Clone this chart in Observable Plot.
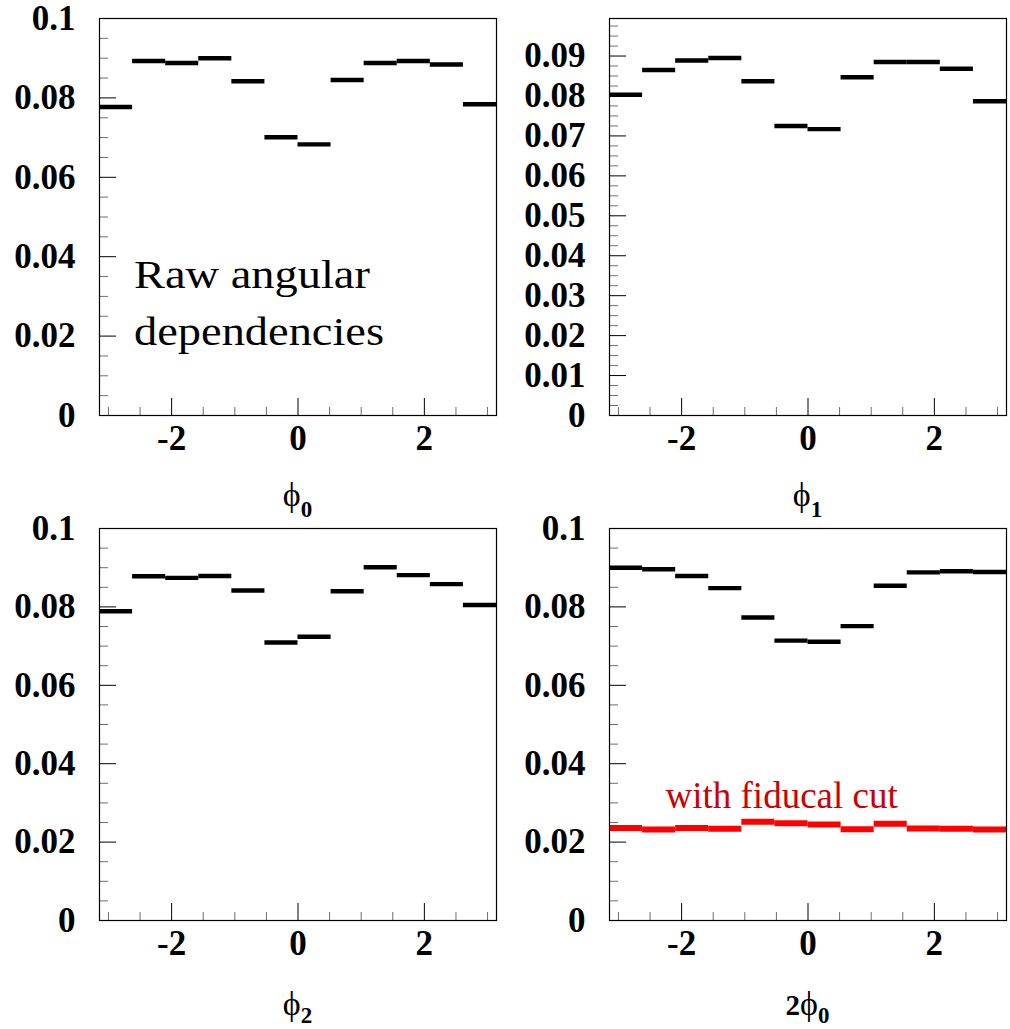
<!DOCTYPE html>
<html><head><meta charset="utf-8">
<script src="https://cdn.jsdelivr.net/npm/d3@7"></script>
<script src="https://cdn.jsdelivr.net/npm/@observablehq/plot@0.6"></script>
<style>
html,body{margin:0;padding:0;background:#fff;}
#root{position:relative;width:1010px;height:1029px;overflow:hidden;background:#fff;}
.cell{position:absolute;}
.cell svg text{font-family:'Liberation Serif','Times New Roman',Times,serif;}
</style></head><body><div id="root"></div>
<script>
// ---- data ----
const binLowEdges = [-6,-5,-4,-3,-2,-1,0,1,2,3,4,5].map(k => k * Math.PI / 6);
const binWidth = Math.PI / 6;
const phi0Values = [0.0777,0.0893,0.0888,0.0900,0.0842,0.0701,0.0683,0.0845,0.0888,0.0893,0.0884,0.0784];
const phi1Values = [0.0803,0.0865,0.0889,0.0895,0.0837,0.0725,0.0717,0.0847,0.0885,0.0885,0.0868,0.0787];
const phi2Values = [0.0789,0.0878,0.0874,0.0879,0.0842,0.0709,0.0724,0.0840,0.0901,0.0881,0.0858,0.0805];
const twoPhi0Values = [0.0900,0.0896,0.0879,0.0848,0.0773,0.0714,0.0711,0.0751,0.0854,0.0888,0.0891,0.0889];
const twoPhi0FiducialValues = [0.0236,0.0232,0.0236,0.0234,0.0252,0.0248,0.0245,0.0233,0.0247,0.0235,0.0234,0.0232];

const xMajorTicks = [-2, 0, 2];
const xMinorTicks = [-3,-2.5,-1.5,-1,-0.5,0.5,1,1.5,2.5,3];
const yMajorTicks = [0,0.02,0.04,0.06,0.08,0.1];
const yMinorTicks = [0.005,0.01,0.015,0.025,0.03,0.035,0.045,0.05,0.055,0.065,0.07,0.075,0.085,0.09,0.095];
const yMajorTicksB = [0,0.01,0.02,0.03,0.04,0.05,0.06,0.07,0.08,0.09];
const yMinorTicksB = [0.0025,0.005,0.0075,0.0125,0.015,0.0175,0.0225,0.025,0.0275,0.0325,0.035,0.0375,0.0425,0.045,0.0475,0.0525,0.055,0.0575,0.0625,0.065,0.0675,0.0725,0.075,0.0775,0.0825,0.085,0.0875,0.0925,0.095,0.0975];

const SERIF = "Liberation Serif, Times New Roman, Times, serif";
const fmt = d => String(+d.toFixed(4));

function panel(cfg) {
  const series = cfg.series.map(s => ({
    ...s,
    data: s.values.map((v, i) => ({lo: binLowEdges[i], hi: binLowEdges[i] + binWidth, v}))
  }));
  const marks = [
    Plot.axisY(cfg.yMinor, {tickSize: -9, stroke: "#6e6e6e", tickFormat: () => "", label: null}),
    Plot.axisY(cfg.yMajor, {tickSize: -17, tickPadding: 41, tickFormat: fmt, fontSize: 35, fontWeight: "bold", fontFamily: SERIF, label: null}),
    Plot.axisX(xMinorTicks, {tickSize: -8, stroke: "#6e6e6e", tickFormat: () => "", label: null}),
    Plot.axisX(xMajorTicks, {tickSize: -17, tickPadding: 27, tickFormat: fmt, fontSize: 35, fontWeight: "bold", fontFamily: SERIF, label: null}),
    ...series.map(s => Plot.ruleY(s.data, {y: "v", x1: "lo", x2: "hi", stroke: s.color, strokeWidth: s.width})),
    Plot.frame({stroke: "black", strokeWidth: 1.2}),
    ...(cfg.notes || [])
  ];
  const svg = Plot.plot({
    width: cfg.w, height: cfg.h,
    marginLeft: cfg.ml, marginRight: cfg.mr, marginTop: cfg.mt, marginBottom: cfg.mb,
    x: {domain: [-Math.PI, Math.PI]},
    y: {domain: [0, cfg.yMax]},
    style: "font-family: 'Liberation Serif', 'Times New Roman', serif; background: transparent; overflow: visible; color: black;",
    marks
  });
  // axis title with subscript
  const t = d3.select(svg).append("text")
    .attr("x", cfg.ml + (cfg.w - cfg.ml - cfg.mr) / 2)
    .attr("y", cfg.h - cfg.mb + cfg.labelOffset)
    .attr("text-anchor", "middle")
    .attr("fill", "black")
    .attr("font-family", SERIF);
  if (cfg.labelPrefix) t.append("tspan").attr("font-size", 29).attr("font-weight", "bold").text(cfg.labelPrefix);
  t.append("tspan").attr("font-size", 34).text("ϕ");
  t.append("tspan").attr("font-size", 23).attr("font-weight", "bold").attr("dy", cfg.subShift).text(cfg.labelSub);
  if (cfg.stretchNotes) {
    d3.select(svg).selectAll("g[aria-label='text'] text").each(function() {
      const tr = this.getAttribute("transform") || "";
      this.setAttribute("transform", tr + " scale(1.19,1)");
    });
  }
  const div = document.createElement("div");
  div.className = "cell";
  div.style.left = cfg.left + "px";
  div.style.top = cfg.top + "px";
  div.appendChild(svg);
  document.getElementById("root").appendChild(div);
  return svg;
}

panel({
  left: 0, top: 0, w: 505, h: 522, ml: 99, mr: 9, mt: 18, mb: 107,
  yMax: 0.1, yMajor: yMajorTicks, yMinor: yMinorTicks,
  series: [{values: phi0Values, color: "black", width: 4.4}],
  labelSub: "0", labelOffset: 91, subShift: 11, stretchNotes: true,
  notes: [Plot.text(["Raw angular\ndependencies"], {x: -2.595, y: 0.0424, text: d => d, textAnchor: "start", lineAnchor: "top", lineHeight: 1.46, fontSize: 39, fontFamily: SERIF, fill: "black"})]
});

panel({
  left: 505, top: 0, w: 505, h: 522, ml: 104, mr: 4, mt: 18, mb: 107,
  yMax: 0.0994, yMajor: yMajorTicksB, yMinor: yMinorTicksB,
  series: [{values: phi1Values, color: "black", width: 4.4}],
  labelSub: "1", labelOffset: 91, subShift: 11
});

panel({
  left: 0, top: 522, w: 505, h: 507, ml: 99, mr: 9, mt: 6, mb: 109,
  yMax: 0.1, yMajor: yMajorTicks, yMinor: yMinorTicks,
  series: [{values: phi2Values, color: "black", width: 4.4}],
  labelSub: "2", labelOffset: 95, subShift: 8
});

panel({
  left: 505, top: 522, w: 505, h: 507, ml: 104, mr: 4, mt: 6, mb: 109,
  yMax: 0.1, yMajor: yMajorTicks, yMinor: yMinorTicks,
  series: [
    {values: twoPhi0Values, color: "black", width: 4.4},
    {values: twoPhi0FiducialValues, color: "#ff0000", width: 6}
  ],
  labelPrefix: "2", labelSub: "0", labelOffset: 95, subShift: 8,
  notes: [Plot.text(["with fiducal cut"], {x: -2.255, y: 0.0354, text: d => d, textAnchor: "start", lineAnchor: "top", fontSize: 37, fontFamily: SERIF, fill: "#cc0000"})]
});
</script>
</body></html>
